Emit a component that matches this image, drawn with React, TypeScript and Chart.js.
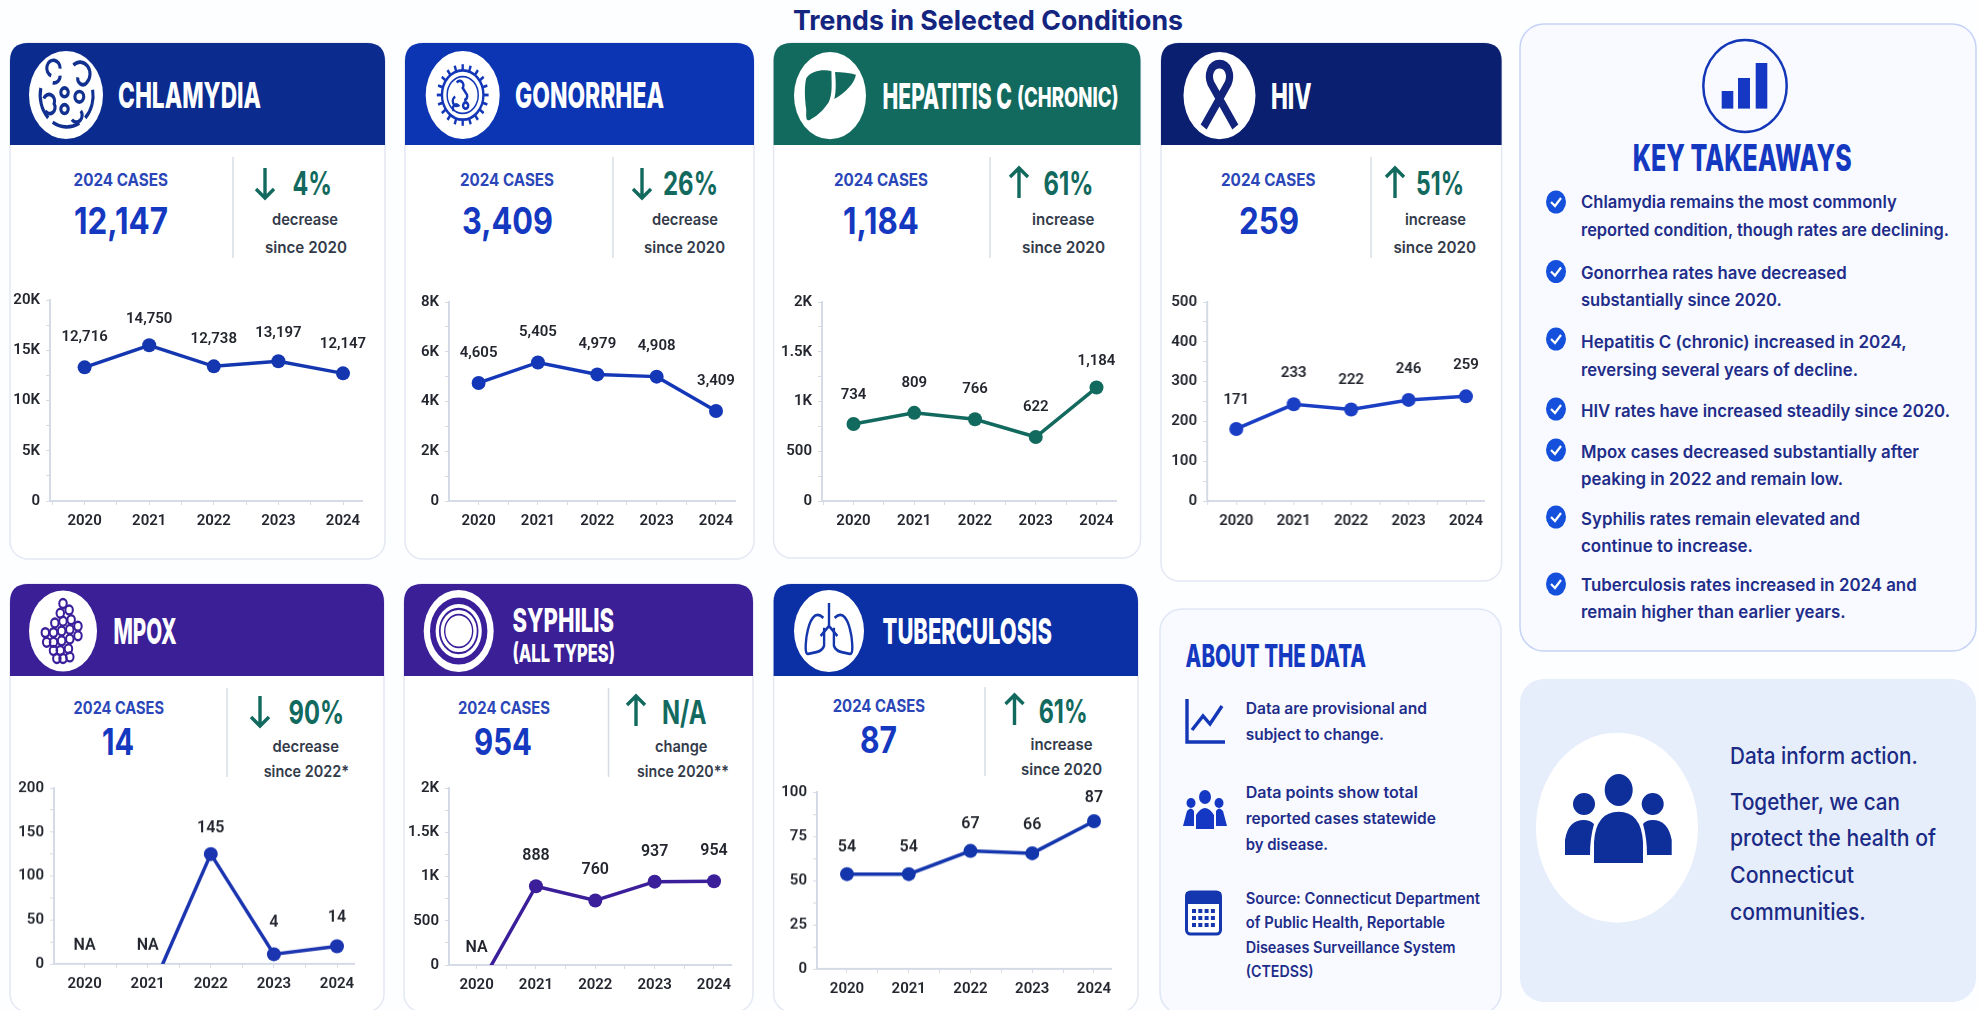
import React, { useEffect, useRef } from "react";
import { Chart, registerables } from "chart.js";

Chart.register(...registerables);

// ---------- data ----------
const years = [2020, 2021, 2022, 2023, 2024];

const chlamydiaPlotted = [13300, 15500, 13400, 13900, 12700];
const chlamydiaLabels = ["12,716", "14,750", "12,738", "13,197", "12,147"];
const chlamydiaYTicks = ["0", "5K", "10K", "15K", "20K"];

const gonorrheaPlotted = [4745, 5570, 5090, 5000, 3620];
const gonorrheaLabels = ["4,605", "5,405", "4,979", "4,908", "3,409"];
const gonorrheaYTicks = ["0", "2K", "4K", "6K", "8K"];

const hepatitisPlotted = [774, 886, 822, 643, 1140];
const hepatitisLabels = ["734", "809", "766", "622", "1,184"];
const hepatitisYTicks = ["0", "500", "1K", "1.5K", "2K"];

const hivPlotted = [181, 243, 230, 254, 263];
const hivLabels = ["171", "233", "222", "246", "259"];
const hivYTicks = ["0", "100", "200", "300", "400", "500"];

const mpoxPlotted = [null, -39, 125, 11, 20];
const mpoxLabels = ["NA", "NA", "145", "4", "14"];
const mpoxYTicks = ["0", "50", "100", "150", "200"];

const syphilisPlotted = [-297, 890, 729, 942, 946];
const syphilisLabels = ["NA", "888", "760", "937", "954"];
const syphilisYTicks = ["0", "500", "1K", "1.5K", "2K"];

const tuberculosisPlotted = [53.6, 53.6, 66.7, 65.4, 83.5];
const tuberculosisLabels = ["54", "54", "67", "66", "87"];
const tuberculosisYTicks = ["0", "25", "50", "75", "100"];

const takeaways = [
  ["Chlamydia remains the most commonly", "reported condition, though rates are declining."],
  ["Gonorrhea rates have decreased", "substantially since 2020."],
  ["Hepatitis C (chronic) increased in 2024,", "reversing several years of decline."],
  ["HIV rates have increased steadily since 2020."],
  ["Mpox cases decreased substantially after", "peaking in 2022 and remain low."],
  ["Syphilis rates remain elevated and", "continue to increase."],
  ["Tuberculosis rates increased in 2024 and", "remain higher than earlier years."],
];

// ---------- layout ----------
const FONT = "Inter, 'Noto Sans', sans-serif";
const NAVY = "#1a2a85";
const TEAL = "#12695e";
const BLUE = "#1538c0";

type Spec = {
  plotted: (number | null)[];
  labels: string[];
  yTicks: string[];
  yMax: number;
  color: string;
  lift: number[];
  labelSize: number;
  box: { left: number; right: number; top: number; bottom: number; first: number; last: number };
};

const charts: Spec[] = [
  { plotted: chlamydiaPlotted, labels: chlamydiaLabels, yTicks: chlamydiaYTicks, yMax: 20000, color: "#1437b0", lift: [30, 26, 27, 28, 29], labelSize: 15, box: { left: 50, right: 362, top: 297, bottom: 501, first: 84.6, last: 343 } },
  { plotted: gonorrheaPlotted, labels: gonorrheaLabels, yTicks: gonorrheaYTicks, yMax: 8000, color: "#1437b8", lift: [30, 30, 30, 30, 30], labelSize: 15, box: { left: 449, right: 735, top: 298.5, bottom: 501, first: 478.6, last: 716 } },
  { plotted: hepatitisPlotted, labels: hepatitisLabels, yTicks: hepatitisYTicks, yMax: 2000, color: TEAL, lift: [29, 30, 30, 30, 26], labelSize: 15, box: { left: 822, right: 1116, top: 298.5, bottom: 501, first: 853.5, last: 1096.5 } },
  { plotted: hivPlotted, labels: hivLabels, yTicks: hivYTicks, yMax: 500, color: "#1b3fc4", lift: [29, 31, 29, 31, 31], labelSize: 15, box: { left: 1207.4, right: 1484, top: 298.5, bottom: 501, first: 1236.5, last: 1466 } },
  { plotted: mpoxPlotted, labels: mpoxLabels, yTicks: mpoxYTicks, yMax: 200, color: "#1b34b0", lift: [18, 18, 26, 31, 29], labelSize: 16, box: { left: 54, right: 354, top: 785, bottom: 963.7, first: 84.6, last: 337 } },
  { plotted: syphilisPlotted, labels: syphilisLabels, yTicks: syphilisYTicks, yMax: 2000, color: "#3b1f9a", lift: [17, 30, 30, 30, 30], labelSize: 16, box: { left: 449, right: 731, top: 785, bottom: 965, first: 476.6, last: 714 } },
  { plotted: tuberculosisPlotted, labels: tuberculosisLabels, yTicks: tuberculosisYTicks, yMax: 100, color: "#1436ad", lift: [27, 27, 27, 28, 23], labelSize: 16, box: { left: 817, right: 1111, top: 789, bottom: 968.7, first: 847, last: 1094 } },
];

const AXIS_W = 50;
const AXIS_H = 36;
const PAD_T = 12;
const PAD_R = 10;

function MiniChart({ spec }: { spec: Spec }) {
  const ref = useRef<HTMLCanvasElement>(null);
  const { box } = spec;
  const w = box.right - box.left + AXIS_W + PAD_R;
  const h = box.bottom - box.top + AXIS_H + PAD_T;
  useEffect(() => {
    const ppy = (box.last - box.first) / 4;
    const xMin = 2020 - (box.first - box.left) / ppy;
    const xMax = 2024 + (box.right - box.last) / ppy;
    const valuePlugin = {
      id: "pointValues",
      afterDatasetsDraw(chart: any) {
        const { ctx, scales } = chart;
        ctx.save();
        ctx.font = `600 ${spec.labelSize}px Roboto, sans-serif`;
        ctx.fillStyle = "#23262e";
        ctx.textAlign = "center";
        ctx.textBaseline = "middle";
        spec.labels.forEach((text, i) => {
          const v = spec.plotted[i];
          const px = scales.x.getPixelForValue(years[i]);
          const py = scales.y.getPixelForValue(v == null || v < 0 ? 0 : v);
          ctx.fillText(text, px, py - spec.lift[i]);
        });
        ctx.restore();
      },
    };
    const chart = new Chart(ref.current as HTMLCanvasElement, {
      type: "line",
      data: {
        datasets: [
          {
            data: years.map((x, i) => ({ x, y: spec.plotted[i] })) as any,
            borderColor: spec.color,
            backgroundColor: spec.color,
            borderWidth: 3.5,
            tension: 0,
            pointRadius: (c: any) => (c.raw && c.raw.y != null && c.raw.y >= 0 ? 7 : 0),
            pointBackgroundColor: spec.color,
            pointBorderWidth: 0,
          },
        ],
      },
      plugins: [valuePlugin],
      options: {
        animation: false,
        responsive: false,
        events: [],
        layout: { autoPadding: false, padding: { top: PAD_T, right: PAD_R, left: 0, bottom: 0 } },
        plugins: { legend: { display: false }, tooltip: { enabled: false }, title: { display: false } },
        scales: {
          x: {
            type: "linear",
            min: xMin,
            max: xMax,
            afterFit: (s: any) => { s.height = AXIS_H; },
            grid: { drawOnChartArea: false, tickLength: 4, tickColor: "#d5dbe6" },
            border: { color: "#d5dbe6", width: 2 },
            ticks: {
              stepSize: 0.5,
              includeBounds: false,
              autoSkip: false,
              maxRotation: 0,
              padding: 7,
              color: "#23262e",
              font: { family: "Roboto, sans-serif", size: 15, weight: "600" },
              callback: (v: any) => (Number.isInteger(v) ? String(v) : ""),
            },
          },
          y: {
            type: "linear",
            min: 0,
            max: spec.yMax,
            afterFit: (s: any) => { s.width = AXIS_W; },
            grid: { drawOnChartArea: false, tickLength: 4, tickColor: "#d5dbe6" },
            border: { color: "#d5dbe6", width: 2 },
            ticks: {
              stepSize: spec.yMax / (spec.yTicks.length - 1) / 2,
              autoSkip: false,
              padding: 6,
              color: "#23262e",
              font: { family: "Roboto, sans-serif", size: 15, weight: "600" },
              callback: (_v: any, i: number) => (i % 2 === 0 ? spec.yTicks[i / 2] : ""),
            },
          },
        },
      } as any,
    });
    return () => chart.destroy();
  }, []);
  return (
    <canvas
      ref={ref}
      width={w}
      height={h}
      style={{ position: "absolute", left: box.left - AXIS_W, top: box.top - PAD_T, width: w, height: h }}
    />
  );
}

function T(p: { a: number; b: number; y: number; s: string; size: number; weight?: number; fill: string; family?: string }) {
  return (
    <text
      x={p.a}
      y={p.y}
      dominantBaseline="central"
      textLength={p.b - p.a}
      lengthAdjust="spacingAndGlyphs"
      fontFamily={p.family || FONT}
      fontSize={p.size}
      fontWeight={p.weight || 500}
      fill={p.fill}
    >
      {p.s}
    </text>
  );
}

function Arrow({ x, y, up }: { x: number; y: number; up: boolean }) {
  const d = up ? -1 : 1;
  return (
    <path
      d={`M${x} ${y - d * 15}L${x} ${y + d * 15}M${x - 9} ${y + d * 6}L${x} ${y + d * 15}L${x + 9} ${y + d * 6}`}
      fill="none"
      stroke={TEAL}
      strokeWidth={3.4}
    />
  );
}

function Card(p: { x1: number; x2: number; y1: number; yh: number; y2: number; color: string }) {
  const r = 18;
  return (
    <g>
      <rect x={p.x1} y={p.y1} width={p.x2 - p.x1} height={p.y2 - p.y1} rx={r} fill="#fff" stroke="#e3e8f3" strokeWidth={1.5} />
      <path
        d={`M${p.x1} ${p.yh}V${p.y1 + r}Q${p.x1} ${p.y1} ${p.x1 + r} ${p.y1}H${p.x2 - r}Q${p.x2} ${p.y1} ${p.x2} ${p.y1 + r}V${p.yh}Z`}
        fill={p.color}
      />
    </g>
  );
}

function Badge(p: { cx: number; cy: number; rx: number; ry: number; children?: React.ReactNode }) {
  return (
    <g>
      <ellipse cx={p.cx} cy={p.cy} rx={p.rx} ry={p.ry} fill="#fff" />
      <g transform={`translate(${p.cx} ${p.cy}) scale(${p.rx / 50} ${p.ry / 50})`}>{p.children}</g>
    </g>
  );
}

const spikes = Array.from({ length: 20 }, (_, i) => (i * Math.PI) / 10);

const IconChlamydia = (
  <g fill="none" stroke="#12308f" strokeWidth={4.2}>
    <path d="M-34 -8A36 36 0 0 0 -24 26M-18 31A36 36 0 0 0 18 32M26 26A36 36 0 0 0 36 -6" />
    <path d="M-20 -22A9 9 0 1 1 -8 -30M-18 -14A8 8 0 0 0 -8 -22" />
    <path d="M10 -34A12 12 0 0 1 28 -14A7 7 0 0 1 16 -20" />
    <circle cx="-2" cy="-3" r="5" />
    <circle cx="18" cy="2" r="6" />
    <circle cx="-2" cy="16" r="5" />
    <path d="M-30 4A7 7 0 0 1 -16 10A7 7 0 0 1 -28 18" />
    <path d="M8 28A7 7 0 0 0 20 18" />
  </g>
);
const IconGonorrhea = (
  <g fill="none" stroke="#1437b8" strokeWidth={3.2}>
    <circle r="28" />
    <circle r="21" strokeWidth={2} />
    {spikes.map((a, i) => (
      <line key={i} x1={Math.cos(a) * 28} y1={Math.sin(a) * 28} x2={Math.cos(a) * 35} y2={Math.sin(a) * 35} />
    ))}
    <path d="M-8 -14A5 5 0 0 1 0 -8L6 0A5 5 0 0 1 2 6" />
    <path d="M-10 2A4 4 0 0 0 -6 12A4 4 0 0 0 -12 18" />
    <circle cx="4" cy="12" r="3.5" />
  </g>
);
const IconLiver = (
  <g fill={TEAL}>
    <path d="M-33 -20C-24 -30 -8 -30 2 -28C2 -14 4 -2 -2 8C-12 20 -20 24 -28 28C-34 30 -33 24 -33 16C-35 4 -36 -10 -33 -20Z" />
    <path d="M7 -27C16 -27 28 -26 36 -24C34 -14 22 -4 6 4C9 -6 8 -18 7 -27Z" />
  </g>
);
const IconRibbon = (
  <g fill="none" stroke="#12237c" strokeWidth={10} strokeLinejoin="round">
    <path d="M-22 36L12 -14C17 -24 12 -36 0 -36C-12 -36 -17 -24 -12 -14L22 36" />
  </g>
);
const blobs = [
  [0, -34], [9, -26], [-4, -22], [12, -14], [0, -12], [-12, -10], [22, -6], [10, -2], [-2, 0], [-14, 2],
  [-26, 2], [22, 6], [10, 10], [-2, 12], [-14, 14], [-24, 14], [8, 22], [-4, 24], [-14, 24], [0, 34], [-9, 34], [10, 32],
];
const IconMpox = (
  <g fill="none" stroke="#3b1f9a" strokeWidth={3}>
    {blobs.map((b, i) => (
      <circle key={i} cx={b[0]} cy={b[1]} r={5.5} />
    ))}
  </g>
);
const IconRings = (
  <g fill="none" stroke="#3b1f9a">
    <circle r="37" strokeWidth={8} />
    <circle r="27" strokeWidth={2.5} />
    <circle r="20" strokeWidth={2} />
  </g>
);
const IconLungs = (
  <g fill="none" stroke="#1436ad" strokeWidth={3.4} strokeLinejoin="round">
    <path d="M0 -34V-6M0 -6L-12 6M0 -6L12 6" />
    <path d="M-8 -16C-20 -26 -28 -14 -32 6C-34 20 -34 28 -30 28C-20 26 -10 26 -7 18V-4" />
    <path d="M8 -16C20 -26 28 -14 32 6C34 20 34 28 30 28C20 26 10 26 7 18V-4" />
  </g>
);

export default function App() {
  useEffect(() => {
    document.body.style.margin = "0";
    document.body.style.background = "#fdfeff";
  }, []);
  const cardText = { c: "#2a46b8", n: BLUE, g: "#333b4a" };
  const kpi = (
    x: { ca: number; cb: number; na: number; nb: number; div: number; arr: number; pa: number; pb: number; la: number; lb: number; sa: number; sb: number },
    y: { c: number; n: number; d1: number; d2: number; arr: number; p: number; l: number; s: number },
    num: string, pct: string, l1: string, l2: string, up: boolean
  ) => (
    <g>
      <T a={x.ca} b={x.cb} y={y.c} s="2024 CASES" size={17} weight={700} fill={cardText.c} />
      <T a={x.na} b={x.nb} y={y.n} s={num} size={37} weight={700} fill={cardText.n} />
      <line x1={x.div} x2={x.div} y1={y.d1} y2={y.d2} stroke="#d7dce6" strokeWidth={1.5} />
      <Arrow x={x.arr} y={y.arr} up={up} />
      <T a={x.pa} b={x.pb} y={y.p} s={pct} size={33} weight={700} fill={TEAL} />
      <T a={x.la} b={x.lb} y={y.l} s={l1} size={16} weight={600} fill={cardText.g} />
      <T a={x.sa} b={x.sb} y={y.s} s={l2} size={16} weight={600} fill={cardText.g} />
    </g>
  );
  const top = { c: 180, n: 220, d1: 157, d2: 258, arr: 183, p: 183, l: 219, s: 247 };
  const botM = { c: 707.7, n: 741.7, d1: 688, d2: 777, arr: 711, p: 711.7, l: 745.7, s: 771 };
  const botT = { c: 705.7, n: 739, d1: 687, d2: 776, arr: 710, p: 710.7, l: 744, s: 769 };

  const kY = [202.4, 229.8, 272.7, 300, 341.8, 369.5, 411, 451.6, 479, 518.5, 546, 585, 612.4];
  const kR = [1896.7, 1949, 1846.7, 1781.7, 1906.7, 1858, 1950, 1919, 1843, 1860, 1753, 1916.7, 1845.7];
  const bulletY = [202, 271.5, 339, 409, 450, 517, 584];
  const lines = takeaways.flat();

  return (
    <div style={{ position: "fixed", left: 0, top: 0, width: 1978, height: 1010, overflow: "hidden", background: "#fdfeff", filter: "blur(0.45px)" }}>
      <svg width={1978} height={1010} style={{ position: "absolute", left: 0, top: 0 }}>
        <T a={793} b={1183} y={20} s="Trends in Selected Conditions" size={27} weight={700} fill="#14257f" />

        <Card x1={10} x2={385} y1={43} yh={145} y2={559} color="#0b2b8e" />
        <Card x1={405} x2={754} y1={43} yh={145} y2={559} color="#0c35b4" />
        <Card x1={773.6} x2={1140.5} y1={43} yh={145} y2={558} color={TEAL} />
        <Card x1={1161} x2={1501.6} y1={43} yh={145} y2={581} color="#0a1f70" />
        <Card x1={10} x2={384} y1={584} yh={676} y2={1012} color="#3a1f96" />
        <Card x1={404} x2={753} y1={584} yh={676} y2={1012} color="#3a1f96" />
        <Card x1={773.6} x2={1138} y1={584} yh={676} y2={1012} color="#0b2fa5" />

        <Badge cx={66} cy={95} rx={37} ry={44}>{IconChlamydia}</Badge>
        <Badge cx={462.7} cy={95} rx={37} ry={44}>{IconGonorrhea}</Badge>
        <Badge cx={830} cy={95.6} rx={36} ry={43.6}>{IconLiver}</Badge>
        <Badge cx={1219.5} cy={95.6} rx={36} ry={43.6}>{IconRibbon}</Badge>
        <Badge cx={63} cy={631} rx={34} ry={40.5}>{IconMpox}</Badge>
        <Badge cx={458.7} cy={631} rx={35} ry={41}>{IconRings}</Badge>
        <Badge cx={829} cy={631} rx={35} ry={41}>{IconLungs}</Badge>

        <T a={118} b={261} y={95} s="CHLAMYDIA" size={36} weight={800} fill="#fff" />
        <T a={515} b={664} y={95} s="GONORRHEA" size={36} weight={800} fill="#fff" />
        <T a={882.6} b={1012} y={96} s="HEPATITIS C" size={35} weight={800} fill="#fff" />
        <T a={1017} b={1118.7} y={97} s="(CHRONIC)" size={27} weight={800} fill="#fff" />
        <T a={1271} b={1311.6} y={96} s="HIV" size={36} weight={800} fill="#fff" />
        <T a={113.4} b={176.6} y={631} s="MPOX" size={36} weight={800} fill="#fff" />
        <T a={512.4} b={614} y={620} s="SYPHILIS" size={32} weight={800} fill="#fff" />
        <T a={512.4} b={615} y={652.7} s="(ALL TYPES)" size={25} weight={800} fill="#fff" />
        <T a={882.6} b={1052} y={630.7} s="TUBERCULOSIS" size={36} weight={800} fill="#fff" />

        {kpi({ ca: 73.6, cb: 168, na: 74, nb: 168, div: 233, arr: 265, pa: 292.5, pb: 332, la: 272, lb: 338, sa: 265, sb: 347 }, top, "12,147", "4%", "decrease", "since 2020", false)}
        {kpi({ ca: 460, cb: 554, na: 462, nb: 553, div: 613, arr: 642, pa: 663, pb: 718, la: 652, lb: 718, sa: 644, sb: 725 }, top, "3,409", "26%", "decrease", "since 2020", false)}
        {kpi({ ca: 834, cb: 928, na: 843, nb: 919, div: 990, arr: 1019, pa: 1043.6, pb: 1093.5, la: 1032, lb: 1094.5, sa: 1022, sb: 1105 }, top, "1,184", "61%", "increase", "since 2020", true)}
        {kpi({ ca: 1221, cb: 1315.5, na: 1239, nb: 1299, div: 1371, arr: 1395, pa: 1416, pb: 1464, la: 1405, lb: 1466, sa: 1393.5, sb: 1476 }, top, "259", "51%", "increase", "since 2020", true)}
        {kpi({ ca: 73.6, cb: 164, na: 102, nb: 134, div: 227, arr: 260, pa: 288.5, pb: 344, la: 272.6, lb: 339, sa: 263.7, sb: 349 }, botM, "14", "90%", "decrease", "since 2022*", false)}
        {kpi({ ca: 458, cb: 550, na: 474, nb: 532, div: 608.5, arr: 636, pa: 662, pb: 706.5, la: 655, lb: 707.5, sa: 637, sb: 729 }, botM, "954", "N/A", "change", "since 2020**", true)}
        {kpi({ ca: 832.7, cb: 925, na: 860, nb: 897, div: 985, arr: 1014.5, pa: 1038.7, pb: 1087.7, la: 1030.5, lb: 1092.5, sa: 1021, sb: 1102 }, botT, "87", "61%", "increase", "since 2020", true)}

        {/* About the data */}
        <rect x={1160} y={609} width={341} height={405} rx={22} fill="#f8faff" stroke="#dfe6f6" strokeWidth={1.5} />
        <T a={1185.6} b={1366} y={655} s="ABOUT THE DATA" size={31} weight={800} fill={BLUE} />
        <g fill="none" stroke="#1437b8" strokeWidth={3.4}>
          <path d="M1187 699V742H1225" />
          <path d="M1192 730L1203 716L1210 724L1222 706" />
        </g>
        <g fill="#1437c4">
          <ellipse cx={1205} cy={797} rx={6} ry={7} />
          <ellipse cx={1191} cy={803} rx={4.5} ry={5} />
          <ellipse cx={1219} cy={803} rx={4.5} ry={5} />
          <path d="M1196 829V815Q1205 801 1214 815V829Z" />
          <path d="M1183 826L1187 811Q1191 806 1194 811V826Z" />
          <path d="M1227 826L1223 811Q1219 806 1216 811V826Z" />
        </g>
        <g>
          <rect x={1186.5} y={892} width={34} height={42} rx={4} fill="#fff" stroke="#1437b0" strokeWidth={3} />
          <rect x={1186} y={892} width={35} height={12} fill="#1437b0" />
          {[0, 1, 2].map((r) => [0, 1, 2, 3].map((c) => (
            <rect key={`${r}${c}`} x={1192 + c * 6.3} y={909 + r * 7} width={4} height={4} fill="#1437b0" />
          )))}
        </g>
        {[
          ["Data are provisional and", 1427, 708],
          ["subject to change.", 1384, 734],
          ["Data points show total", 1418, 792],
          ["reported cases statewide", 1436, 818],
          ["by disease.", 1328, 844],
          ["Source: Connecticut Department", 1480, 898],
          ["of Public Health, Reportable", 1445, 922],
          ["Diseases Surveillance System", 1455.6, 947],
          ["(CTEDSS)", 1313.5, 971],
        ].map((l, i) => (
          <T key={i} a={1245.7} b={l[1] as number} y={l[2] as number} s={l[0] as string} size={15.5} weight={600} fill="#1f2d8a" />
        ))}

        {/* Key takeaways */}
        <rect x={1520} y={24} width={456} height={627} rx={24} fill="#f8faff" stroke="#c3d2f5" strokeWidth={1.5} />
        <ellipse cx={1745} cy={86} rx={41.7} ry={46} fill="none" stroke="#1437b8" strokeWidth={2.5} />
        <rect x={1721.7} y={91} width={11.6} height={17.6} fill="#1437c4" />
        <rect x={1738} y={78} width={12} height={30.6} fill="#1437c4" />
        <rect x={1755.7} y={63} width={11.6} height={45.6} fill="#1437c4" />
        <T a={1632.7} b={1851.7} y={157} s="KEY TAKEAWAYS" size={37} weight={800} fill={BLUE} />
        {bulletY.map((y, i) => (
          <g key={i}>
            <ellipse cx={1556} cy={y} rx={10} ry={11.5} fill="#1450dc" />
            <path d={`M${1551} ${y}L${1555} ${y + 4}L${1561} ${y - 4}`} fill="none" stroke="#fff" strokeWidth={2.2} />
          </g>
        ))}
        {lines.map((s, i) => (
          <T key={i} a={1581} b={kR[i]} y={kY[i]} s={s} size={17} weight={600} fill="#1f2d8a" />
        ))}

        {/* Data inform action */}
        <rect x={1520} y={679} width={456} height={323} rx={24} fill="#e6eefb" />
        <ellipse cx={1617} cy={827.7} rx={81} ry={95} fill="#fff" />
        <g fill="#0e2f9a">
          <ellipse cx={1618.7} cy={790} rx={14} ry={16} />
          <circle cx={1584} cy={804} r={11} />
          <circle cx={1652.7} cy={804} r={11} />
          <path d="M1565 855V840Q1568 820 1584 820Q1590 820 1594 824Q1590 838 1590 855Z" />
          <path d="M1671.7 855V840Q1668 820 1652.7 820Q1646 820 1643 824Q1647 838 1647 855Z" />
          <path d="M1594 863V842Q1596 811.7 1618.7 811.7Q1641 811.7 1643 842V863Z" />
        </g>
        {[
          ["Data inform action.", 1917.7, 755.7],
          ["Together, we can", 1900, 801.7],
          ["protect the health of", 1936, 838],
          ["Connecticut", 1854, 875],
          ["communities.", 1865.7, 912],
        ].map((l, i) => (
          <T key={i} a={1730} b={l[1] as number} y={l[2] as number} s={l[0] as string} size={23} weight={500} fill={NAVY} />
        ))}
      </svg>
      {charts.map((c, i) => (
        <MiniChart key={i} spec={c} />
      ))}
    </div>
  );
}
